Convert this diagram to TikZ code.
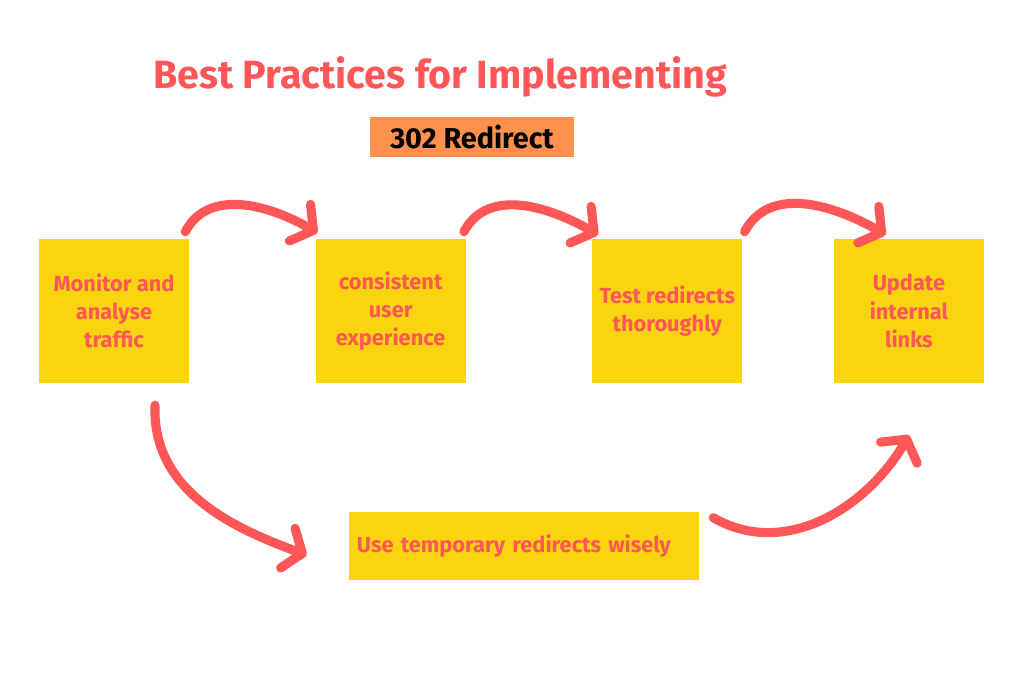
\documentclass[tikz,border=0pt]{standalone}
\usepackage{fontspec}
\setmainfont{Fira Sans}
\usetikzlibrary{positioning,arrows.meta}
\definecolor{coral}{HTML}{FF5757}
\definecolor{sunflower}{HTML}{F9D40F}
\definecolor{tangerine}{HTML}{FF914D}

\begin{document}
\begin{tikzpicture}[x=0.025cm, y=0.025cm, every node/.style = {align=center},
    stickybox/.style = {fill=sunflower, text=coral, inner sep=0pt,
      minimum width=3.75cm, minimum height=3.6cm,
      font=\bfseries\fontsize{15.5}{20}\selectfont},
    brush/.style = {draw=coral, line width=6.5pt, line cap=round,
      -{Straight Barb[length=11pt, width=30pt, round]}}]
  \useasboundingbox (0,0) rectangle (1024,-683);
  \node[text=coral, anchor=base, font=\bfseries\fontsize{28}{32}\selectfont] (title) at (440,-89) {Best Practices for Implementing};
  \node[fill=tangerine, font=\bfseries\fontsize{20.5}{24}\selectfont, minimum width=5.075cm, minimum height=1cm] (badge) at (472,-137) {302 Redirect};
  \node[stickybox] (monitor) at (114,-311) {Monitor and\\analyse\\traffic};
  \node[stickybox, right=3.15cm of monitor] (consistent) {consistent\\user\\experience};
  \node[stickybox, right=3.15cm of consistent] (test) {Test redirects\\thoroughly};
  \node[stickybox, right=2.275cm of test] (update) {Update\\internal\\links};
  \node[stickybox, minimum height=1.7cm, inner xsep=0.2cm, text width=8.35cm, align=left] (wisely) at (524,-546) {Use temporary redirects wisely};
  \draw[brush] ([xshift=-0.1cm, yshift=0.175cm]monitor.north east) to[out=62, in=150] ([xshift=0.05cm, yshift=0.15cm]consistent.north west);
  \draw[brush] ([xshift=-0.05cm, yshift=0.175cm]consistent.north east) to[out=62, in=150] ([xshift=0.15cm, yshift=0.1cm]test.north west);
  \draw[brush] ([xshift=0.05cm, yshift=0.175cm]test.north east) to[out=62, in=150] ([xshift=1.3cm, yshift=0.1cm]update.north west);
  \draw[brush] ([xshift=1.025cm, yshift=-0.55cm]monitor.south) to[out=-92, in=160] ([xshift=-1.05cm, yshift=-0.225cm]wisely.west);
  \draw[brush] ([xshift=0.35cm, yshift=-0.15cm]wisely.north east) to[out=-30, in=-120] ([yshift=-1.3cm]update.south);
\end{tikzpicture}
\end{document}
